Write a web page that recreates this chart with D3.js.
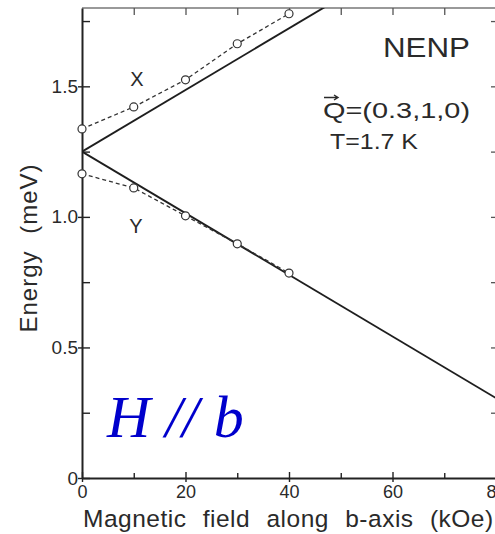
<!DOCTYPE html>
<html>
<head>
<meta charset="utf-8">
<script src="https://cdn.jsdelivr.net/npm/d3@7/dist/d3.min.js"></script>
<style>
  html, body { margin: 0; padding: 0; background: #fff; }
  svg { display: block; }
  text { font-family: "Liberation Sans", Arial, sans-serif; fill: #2a2a2a; }
</style>
</head>
<body>
<svg id="chart" width="495" height="534"></svg>
<script>
// Field axis (kOe) and energy axis (meV) ticks
const fieldMajor = [0, 20, 40, 60, 80];
const fieldMinor = [10, 30, 50, 70];
const fieldAll = [10, 20, 30, 40, 50, 60, 70];
const energyMajor = [0, 0.5, 1.0, 1.5];
const energyLabels = ["0", "0.5", "1.0", "1.5"];
const energyMinor = [0.25, 0.75, 1.25, 1.75];
const energyAll = [0.25, 0.5, 0.75, 1.0, 1.25, 1.5, 1.75];

// Measured modes X and Y (open circles, dashed)
const measuredField = [0, 10, 20, 30, 40];
const modeX = [1.337, 1.421, 1.525, 1.663, 1.778];
const modeY = [1.165, 1.111, 1.004, 0.897, 0.785];

// Zeeman-split branches (solid)
const zeemanField = [0, 80];
const upperBranch = [1.25, 2.194];
const lowerBranch = [1.25, 0.306];

const svg = d3.select("#chart");
const x = d3.scaleLinear().domain([0, 80]).range([82, 496]);
const y = d3.scaleLinear().domain([0, 1.8]).range([478, 8]);

// clip to the plotting frame
svg.append("defs").append("clipPath").attr("id", "plot")
  .append("rect").attr("x", x(0)).attr("y", y(1.8))
  .attr("width", x(80) - x(0)).attr("height", y(0) - y(1.8));

// frame: top edge
svg.append("line").attr("x1", x(0)).attr("x2", 497).attr("y1", y(1.8)).attr("y2", y(1.8))
  .attr("stroke", "#777").attr("stroke-width", 1.5);

// top ticks
const topTicks = svg.append("g").attr("transform", `translate(0,${y(1.8)})`)
  .call(d3.axisTop(x).tickValues(fieldAll).tickSizeInner(-7).tickSizeOuter(0).tickFormat(""));
topTicks.select(".domain").remove();
topTicks.selectAll("line").attr("stroke", "#555").attr("stroke-width", 1.3);

// right ticks
const rightTicks = svg.append("g").attr("transform", `translate(497,0)`)
  .call(d3.axisRight(y).tickValues(energyAll).tickSizeInner(-6).tickSizeOuter(0).tickFormat(""));
rightTicks.select(".domain").remove();
rightTicks.selectAll("line").attr("stroke", "#555").attr("stroke-width", 1.3);

// bottom axis
const bottomAxis = svg.append("g").attr("transform", `translate(0,${y(0)})`)
  .call(d3.axisBottom(x).tickValues(fieldMajor).tickSizeInner(-6).tickSizeOuter(0).tickPadding(7));
bottomAxis.select(".domain").attr("stroke", "#222").attr("stroke-width", 2);
bottomAxis.selectAll("line").attr("y1", 4).attr("stroke", "#222").attr("stroke-width", 1.4);
bottomAxis.selectAll("text").attr("font-size", 18).attr("fill", "#333")
  .style("font-family", "Liberation Sans, Arial, sans-serif");
const bottomMinor = svg.append("g").attr("transform", `translate(0,${y(0)})`)
  .call(d3.axisBottom(x).tickValues(fieldMinor).tickSizeInner(-5).tickSizeOuter(0).tickFormat(""));
bottomMinor.select(".domain").remove();
bottomMinor.selectAll("line").attr("stroke", "#222").attr("stroke-width", 1.4);

// left axis
const leftAxis = svg.append("g").attr("transform", `translate(${x(0)},0)`)
  .call(d3.axisLeft(y).tickValues(energyMajor).tickSizeInner(-8).tickSizeOuter(0).tickPadding(4)
    .tickFormat((d, i) => energyLabels[i]));
leftAxis.select(".domain").attr("stroke", "#222").attr("stroke-width", 2);
leftAxis.selectAll("line").attr("x1", -4).attr("stroke", "#222").attr("stroke-width", 1.4);
leftAxis.selectAll("text").attr("font-size", 19).attr("fill", "#444")
  .style("font-family", "Liberation Sans, Arial, sans-serif");
const leftMinor = svg.append("g").attr("transform", `translate(${x(0)},0)`)
  .call(d3.axisLeft(y).tickValues(energyMinor).tickSizeInner(-8).tickSizeOuter(0).tickFormat(""));
leftMinor.select(".domain").remove();
leftMinor.selectAll("line").attr("stroke", "#222").attr("stroke-width", 1.4);

// axis titles
svg.append("text").attr("x", 83).attr("y", 527).attr("font-size", 24.5)
  .style("letter-spacing", "0.5px").style("word-spacing", "9px")
  .text("Magnetic field along b-axis (kOe)");
svg.append("text").attr("transform", "translate(37,248) rotate(-90)")
  .attr("text-anchor", "middle").attr("font-size", 24)
  .style("letter-spacing", "1px").style("word-spacing", "9px")
  .text("Energy (meV)");

const plot = svg.append("g").attr("clip-path", "url(#plot)");

// Zeeman branches
const segment = d3.line().x(d => x(d[0])).y(d => y(d[1]));
[upperBranch, lowerBranch].forEach(b => {
  plot.append("path").datum(zeemanField.map((f, i) => [f, b[i]]))
    .attr("d", segment).attr("fill", "none").attr("stroke", "#1e1e1e").attr("stroke-width", 1.9);
});

// measured modes
[modeX, modeY].forEach(m => {
  const pts = measuredField.map((f, i) => [f, m[i]]);
  plot.append("path").datum(pts).attr("d", segment).attr("fill", "none")
    .attr("stroke", "#333").attr("stroke-width", 1.3).attr("stroke-dasharray", "4,3");
  svg.append("g").selectAll("circle").data(pts).join("circle")
    .attr("cx", d => x(d[0])).attr("cy", d => y(d[1])).attr("r", 4)
    .attr("fill", "#fff").attr("stroke", "#333").attr("stroke-width", 1.2);
});

// mode labels
svg.append("text").attr("x", 137).attr("y", 86).attr("text-anchor", "middle")
  .attr("font-size", 20).text("X");
svg.append("text").attr("x", 136).attr("y", 233).attr("text-anchor", "middle")
  .attr("font-size", 20).text("Y");

// annotations
svg.append("text").attr("x", 383).attr("y", 57).attr("font-size", 27)
  .attr("textLength", 87).attr("lengthAdjust", "spacingAndGlyphs").text("NENP");
svg.append("text").attr("x", 323).attr("y", 118).attr("font-size", 22)
  .attr("textLength", 147).attr("lengthAdjust", "spacingAndGlyphs").text("Q=(0.3,1,0)");
// vector arrow over Q
svg.append("path").attr("d", "M324,97.5 L338,97.5 M334,95 L338,97.5 L334,100")
  .attr("fill", "none").attr("stroke", "#2a2a2a").attr("stroke-width", 1.4);
svg.append("text").attr("x", 330).attr("y", 149).attr("font-size", 22)
  .attr("textLength", 88).attr("lengthAdjust", "spacingAndGlyphs").text("T=1.7 K");

// field direction
svg.append("text").attr("x", 107).attr("y", 437).attr("font-size", 60)
  .style("font-family", "Liberation Serif, 'Times New Roman', serif")
  .style("font-style", "italic").style("fill", "#0000cc")
  .text("H // b");
</script>
</body>
</html>
